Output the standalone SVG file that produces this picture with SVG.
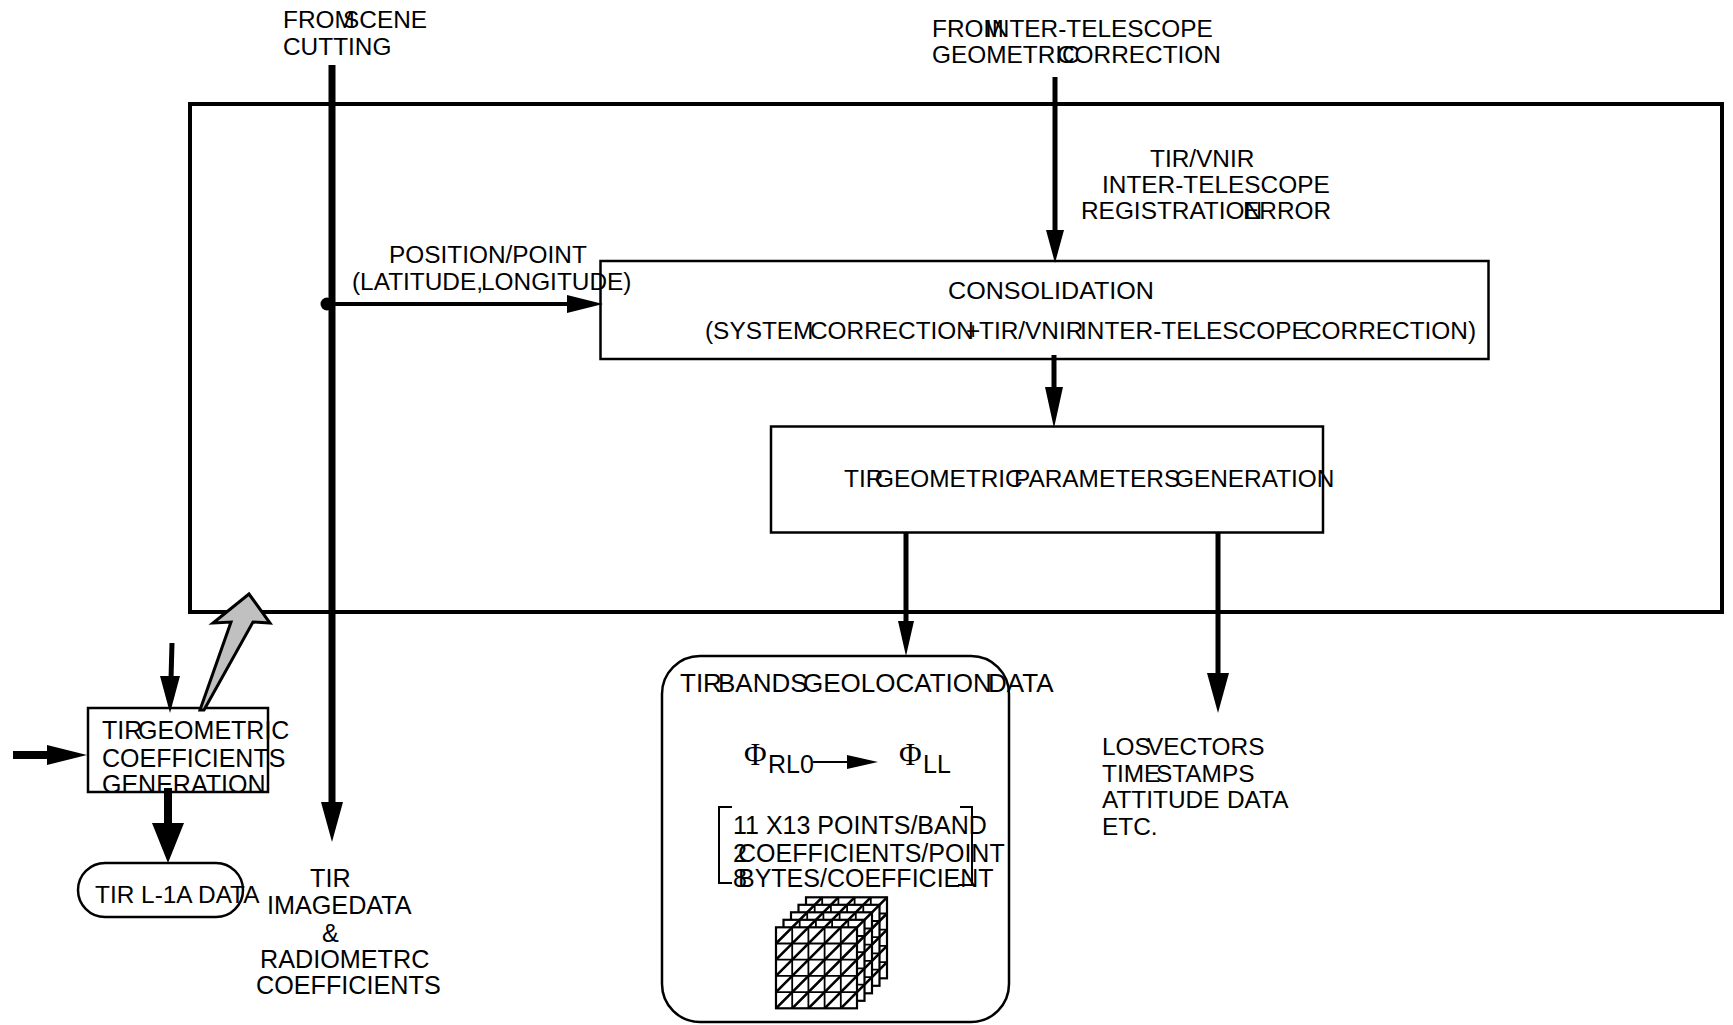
<svg xmlns="http://www.w3.org/2000/svg" width="1733" height="1025" viewBox="0 0 1733 1025">
  <style>
    text { font-family: "Liberation Sans", Arial, Helvetica, sans-serif; font-size: 24.4px; fill: #000; }
    .greek { font-family: "Liberation Serif", "Times New Roman", serif; font-size: 31px; }
    .big { font-size: 25.2px; }
    .mid { font-size: 25px; }
    .title { font-size: 26px; }
    .box { fill: none; stroke: #000; stroke-width: 2.5; }
    .frame { fill: none; stroke: #000; stroke-width: 4; }
    .line { stroke: #000; fill: none; }
    .head { fill: #000; stroke: none; }
    .grid { stroke: #000; stroke-width: 1.8; fill: none; }
    .diag { stroke: #000; stroke-width: 2.6; fill: none; }
  </style>
  <defs>
    <!-- one sheet of the coefficient grid: 5 x 5 cells, each split by a diagonal -->
    <g id="sheet">
      <rect x="0" y="0" width="81" height="81" fill="#fff" stroke="#000" stroke-width="2.2"/>
      <path class="grid" d="M16.2 0V81M32.4 0V81M48.6 0V81M64.8 0V81M0 16.2H81M0 32.4H81M0 48.6H81M0 64.8H81"/>
      <path class="diag" d="M0 16.2L16.2 0M0 32.4L32.4 0M0 48.6L48.6 0M0 64.8L64.8 0M0 81L81 0M16.2 81L81 16.2M32.4 81L81 32.4M48.6 81L81 48.6M64.8 81L81 64.8"/>
    </g>
  </defs>

  <rect width="1733" height="1025" fill="#fff"/>

  <!-- processing frame -->
  <g id="frame">
    <rect class="frame" x="190" y="104" width="1532" height="508"/>
  </g>

  <!-- free labels -->
  <g id="labels">
    <text><tspan x="283" y="28">FROM </tspan><tspan x="343" y="28">SCENE</tspan><tspan x="283" y="55">CUTTING</tspan></text>
    <text><tspan x="932" y="37">FROM </tspan><tspan x="985" y="37">INTER-TELESCOPE</tspan><tspan x="932" y="63">GEOMETRIC </tspan><tspan x="1057" y="63">CORRECTION</tspan></text>
    <text><tspan x="1150" y="167">TIR/VNIR</tspan><tspan x="1102" y="193">INTER-TELESCOPE</tspan><tspan x="1081" y="219">REGISTRATION </tspan><tspan x="1243" y="219">ERROR</tspan></text>
    <text><tspan x="389" y="263">POSITION/POINT</tspan><tspan x="352" y="290">(LATITUDE, </tspan><tspan x="481" y="290">LONGITUDE)</tspan></text>
    <text class="big"><tspan x="310" y="887">TIR</tspan><tspan x="267" y="914">IMAGEDATA</tspan><tspan x="322" y="942">&amp;</tspan><tspan x="260" y="968">RADIOMETRC</tspan><tspan x="256" y="994">COEFFICIENTS</tspan></text>
    <text><tspan x="1102" y="755">LOS </tspan><tspan x="1147" y="755">VECTORS</tspan><tspan x="1102" y="782">TIME </tspan><tspan x="1156" y="782">STAMPS</tspan><tspan x="1102" y="808">ATTITUDE </tspan><tspan x="1227" y="808">DATA</tspan><tspan x="1102" y="835">ETC.</tspan></text>
  </g>

  <!-- consolidation -->
  <g id="node-consolidation">
    <rect class="box" x="600.5" y="261" width="888" height="98"/>
    <text x="948" y="299" textLength="206" lengthAdjust="spacingAndGlyphs">CONSOLIDATION</text>
    <text><tspan x="705" y="339">(SYSTEM </tspan><tspan x="810" y="339">CORRECTION </tspan><tspan x="966" y="339">+ </tspan><tspan x="979" y="339">TIR/VNIR </tspan><tspan x="1080" y="339">INTER-TELESCOPE </tspan><tspan x="1304" y="339">CORRECTION)</tspan></text>
  </g>

  <!-- geometric parameters generation -->
  <g id="node-parameters">
    <rect class="box" x="771" y="426.5" width="552" height="106"/>
    <text><tspan x="844" y="487">TIR </tspan><tspan x="875" y="487">GEOMETRIC </tspan><tspan x="1014" y="487">PARAMETERS </tspan><tspan x="1175" y="487">GENERATION</tspan></text>
  </g>

  <!-- geolocation data product -->
  <g id="node-geolocation">
    <rect class="box" x="662" y="656" width="347" height="366" rx="38" ry="38"/>
    <text class="title"><tspan x="680" y="692">TIR </tspan><tspan x="718" y="692">BANDS </tspan><tspan x="803" y="692">GEOLOCATION </tspan><tspan x="988" y="692">DATA</tspan></text>
    <text class="greek" x="744" y="765">Φ</text>
    <text class="mid" x="768" y="773">RL0</text>
    <line class="line" x1="813" y1="762" x2="850" y2="762" stroke-width="2"/>
    <polygon class="head" points="847,755 878,762 847,769"/>
    <text class="greek" x="899" y="765">Φ</text>
    <text class="mid" x="923" y="773">LL</text>
    <path class="line" stroke-width="2" d="M732 807H719V883H732M960 807H972V885H958"/>
    <text class="mid"><tspan x="733" y="834">11 X13 POINTS/BAND</tspan></text>
    <text class="mid"><tspan x="733" y="862">2 </tspan><tspan x="738" y="862">COEFFICIENTS/POINT</tspan></text>
    <text class="mid"><tspan x="733" y="887">8 </tspan><tspan x="738" y="887">BYTES/COEFFICIENT</tspan></text>
    <use href="#sheet" transform="translate(806 897.3)"/>
    <use href="#sheet" transform="translate(798.5 904.8)"/>
    <use href="#sheet" transform="translate(791 912.3)"/>
    <use href="#sheet" transform="translate(783.5 919.8)"/>
    <use href="#sheet" transform="translate(776 927.3)"/>
  </g>

  <!-- coefficient generation -->
  <g id="node-coefficients">
    <rect class="box" x="88" y="708" width="180" height="84"/>
    <text class="mid"><tspan x="102" y="739">TIR </tspan><tspan x="138" y="739">GEOMETRIC</tspan><tspan x="102" y="767">COEFFICIENTS</tspan><tspan x="102" y="793">GENERATION</tspan></text>
  </g>

  <!-- level 1A output -->
  <g id="node-l1a">
    <rect class="box" x="78" y="863" width="165" height="54" rx="27" ry="27"/>
    <text x="95" y="903">TIR L-1A DATA</text>
  </g>

  <!-- connectors -->
  <g id="connectors">
    <line class="line" x1="332" y1="65" x2="332" y2="805" stroke-width="7"/>
    <polygon class="head" points="321,802 332,842 343,802"/>
    <circle cx="327" cy="304" r="6.5" fill="#000"/>
    <line class="line" x1="332" y1="304" x2="570" y2="304" stroke-width="4"/>
    <polygon class="head" points="567,295 603,304 567,313"/>
    <line class="line" x1="1055" y1="77" x2="1055" y2="233" stroke-width="5"/>
    <polygon class="head" points="1046,230 1055,263 1064,230"/>
    <line class="line" x1="1054" y1="355" x2="1054" y2="390" stroke-width="5"/>
    <polygon class="head" points="1045,387 1054,428 1063,387"/>
    <line class="line" x1="906" y1="533" x2="906" y2="624" stroke-width="5"/>
    <polygon class="head" points="898,621 906,656 914,621"/>
    <line class="line" x1="1218" y1="533" x2="1218" y2="676" stroke-width="5"/>
    <polygon class="head" points="1207,673 1218,713 1229,673"/>
    <line class="line" x1="13" y1="755" x2="50" y2="755" stroke-width="8"/>
    <polygon class="head" points="47,745 87,755 47,765"/>
    <line class="line" x1="172" y1="643" x2="171" y2="679" stroke-width="5"/>
    <polygon class="head" points="160,676 170,713 180,676"/>
    <line class="line" x1="168" y1="788" x2="168" y2="826" stroke-width="8"/>
    <polygon class="head" points="152,823 168,863 184,823"/>
    <polygon points="200,710 231,622 213,623 249,594 270,623 253,622 204,710" fill="#c0c0c0" stroke="#000" stroke-width="3" stroke-linejoin="miter"/>
  </g>
</svg>
